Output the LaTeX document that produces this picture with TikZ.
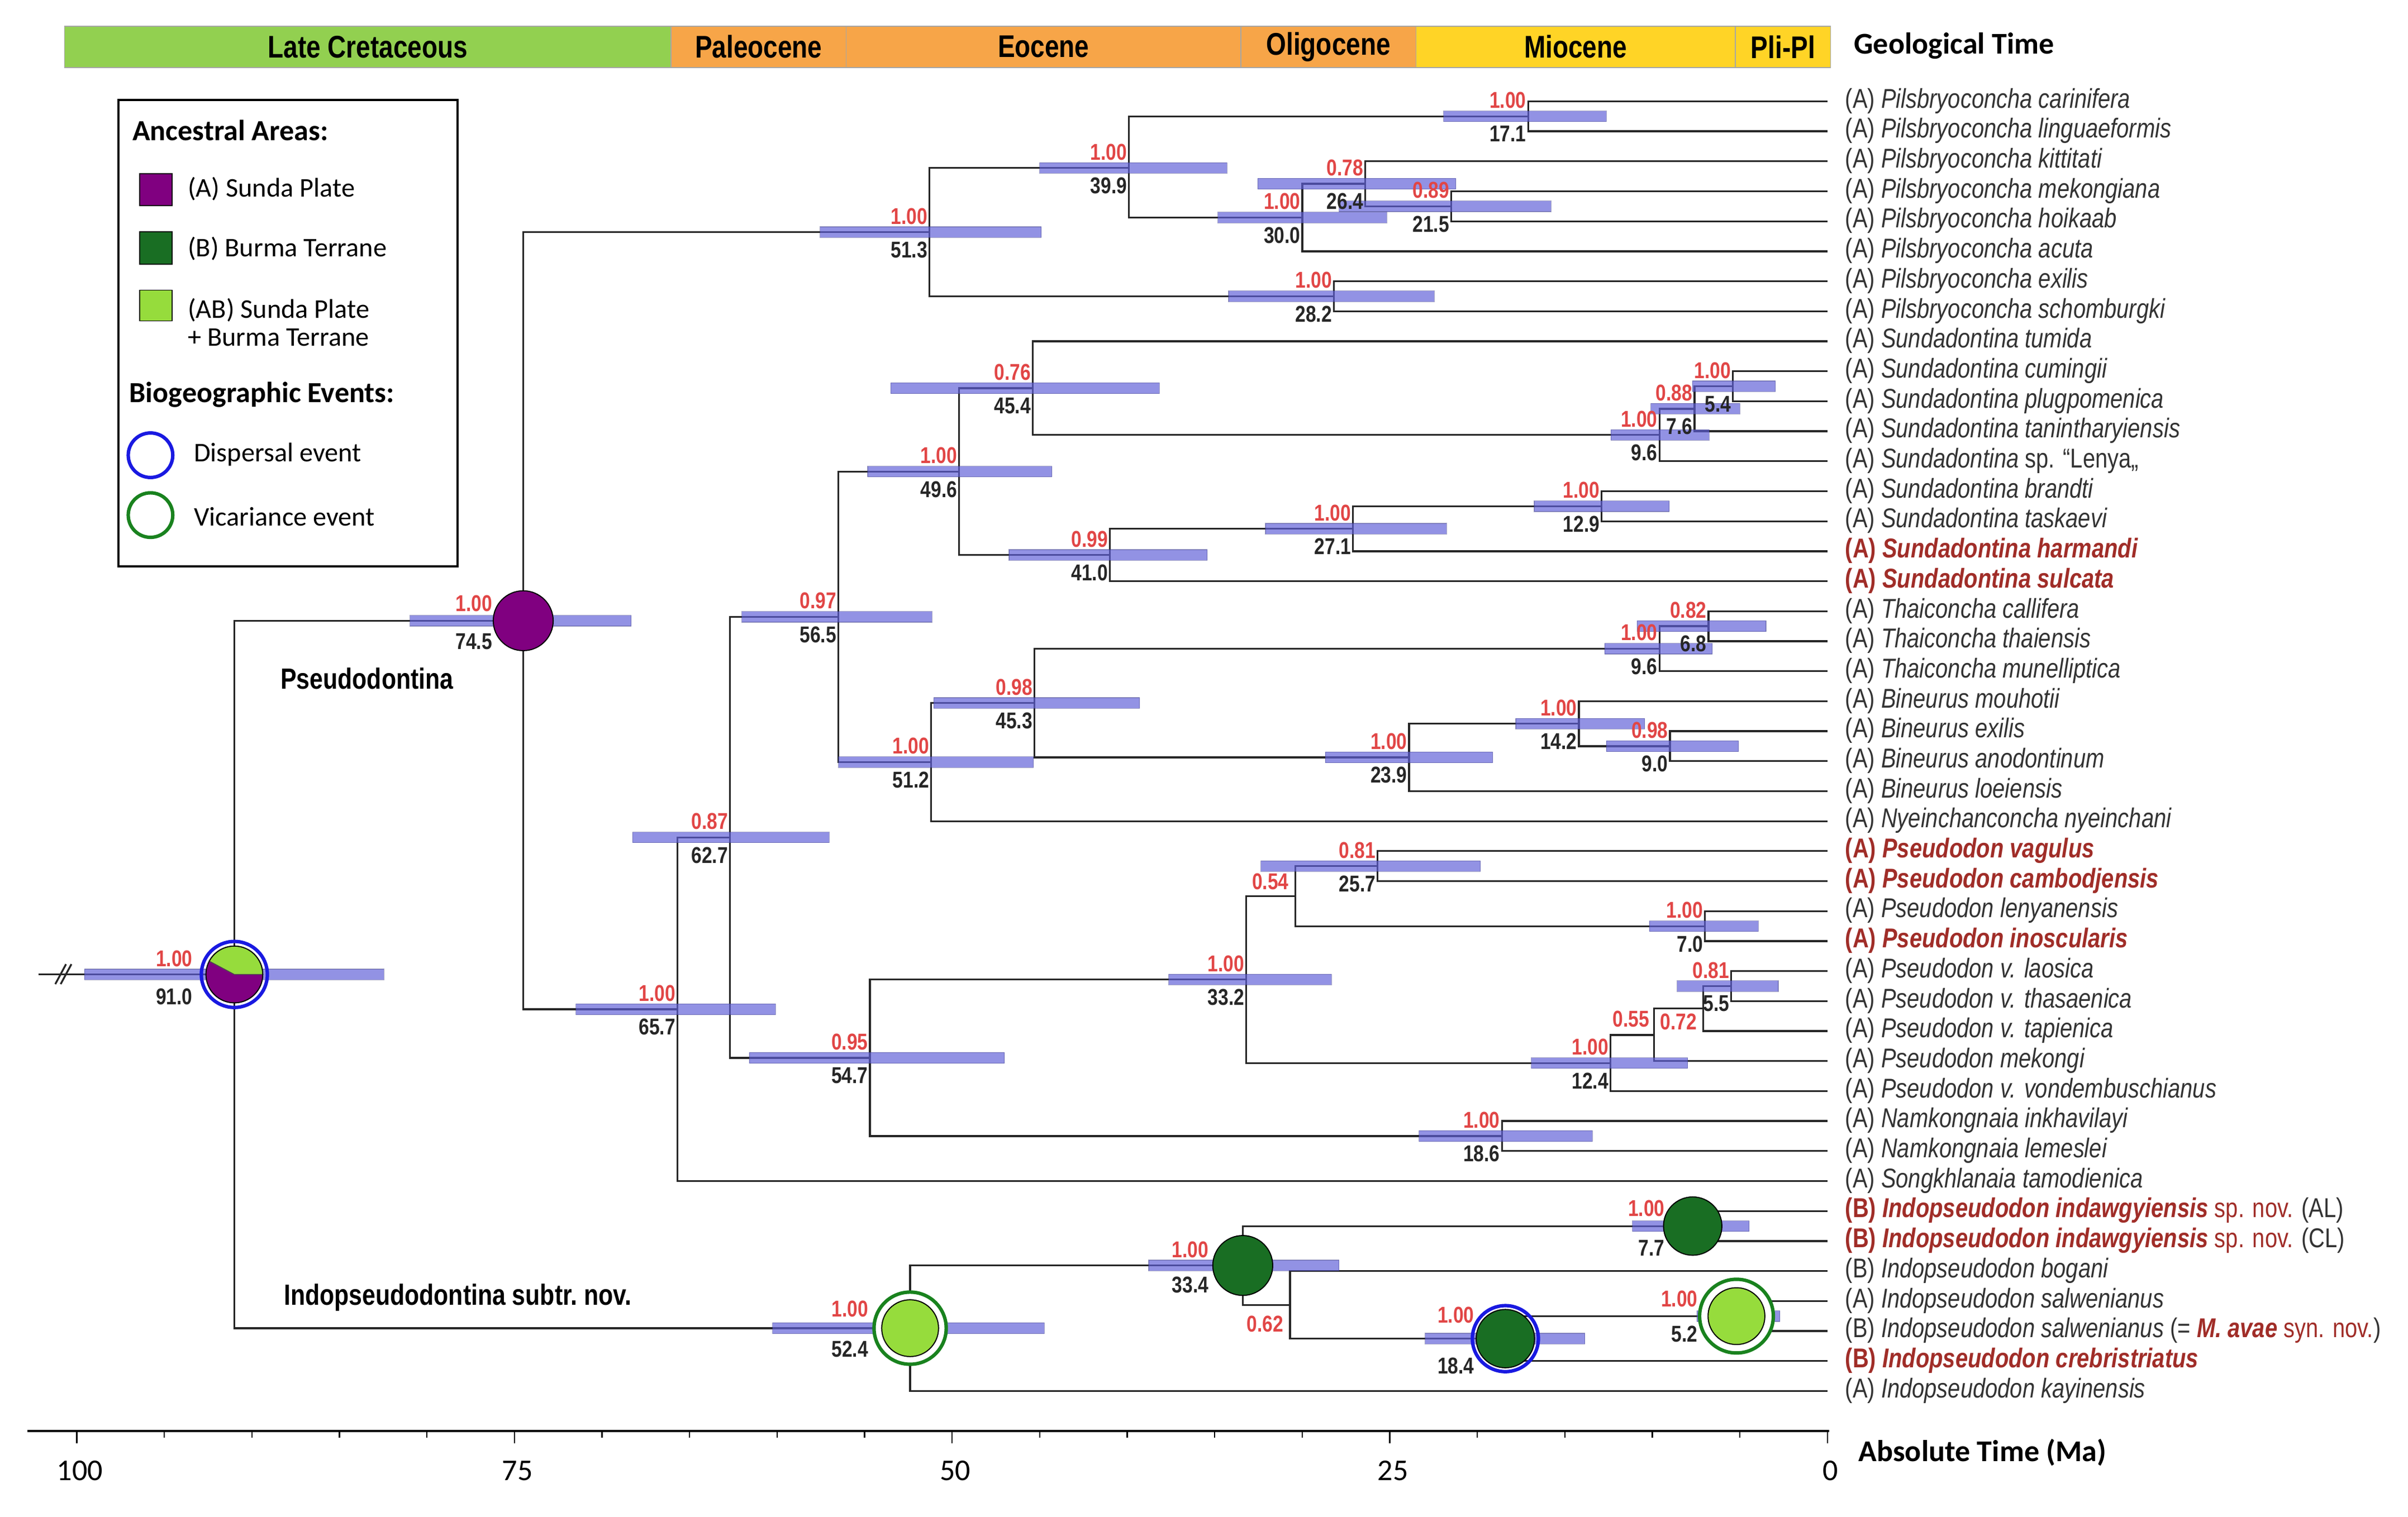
\documentclass[tikz,border=0pt]{standalone}
\usepackage{fontspec}
\setmainfont{Liberation Sans}
\newfontfamily\narrow{Liberation Sans}[FakeStretch=0.82]
\newfontfamily\calib{Carlito}
\usetikzlibrary{positioning}

\definecolor{sunda}{RGB}{128,0,128}
\definecolor{burma}{RGB}{25,110,35}
\definecolor{both}{RGB}{150,220,60}
\definecolor{disp}{RGB}{25,25,225}
\definecolor{vica}{RGB}{25,130,30}
\definecolor{postred}{RGB}{225,70,70}
\definecolor{taxred}{RGB}{160,45,40}
\definecolor{hpdblue}{RGB}{95,95,215}
\definecolor{cretac}{RGB}{146,208,80}
\definecolor{paleog}{RGB}{247,165,72}
\definecolor{neog}{RGB}{255,212,38}

\newcommand{\newtax}[1]{\textcolor{taxred}{\bfseries #1}}

\tikzset{
  branch/.style={line width=0.85pt, draw=black!85},
  hpd/.style={fill=hpdblue, fill opacity=0.68, draw=hpdblue!60!black, draw opacity=0.45, line width=0.3pt},
  taxon/.style={font=\narrow\fontsize{12.6}{14}\selectfont, text=black!80, inner sep=0pt,
    text height=1.6ex, text depth=0.45ex},
  post/.style={font=\narrow\bfseries\fontsize{10.6}{12}\selectfont, text=postred, inner sep=0pt},
  age/.style={font=\narrow\bfseries\fontsize{10.6}{12}\selectfont, text=black!85, inner sep=0pt},
  clade/.style={font=\narrow\bfseries\fontsize{13.5}{15}\selectfont, inner sep=0pt},
  epochtxt/.style={font=\narrow\bfseries\fontsize{14.5}{16}\selectfont, inner sep=0pt},
  axhead/.style={font=\calib\bfseries\fontsize{14}{16}\selectfont, anchor=west, inner sep=0pt},
  axnum/.style={font=\calib\fontsize{14}{16}\selectfont, inner sep=0pt},
  legtxt/.style={font=\calib\fontsize{12.5}{12.9}\selectfont, anchor=west, inner sep=0pt, align=left},
  leghead/.style={font=\calib\bfseries\fontsize{13.5}{15}\selectfont, anchor=west, inner sep=0pt},
  area/.style={draw=black, line width=0.5pt},
  evring/.style={line width=1.6pt},
  areadot/.style={draw=black, line width=0.5pt}
}

\begin{document}
\begin{tikzpicture}[x=0.025cm, y=-0.025cm]
\useasboundingbox (0,0) rectangle (1568,988);

% geological time bar
\foreach \a/\b/\col/\txt in {42/437/cretac/Late Cretaceous, 437/551/paleog/Paleocene,
  551/808/paleog/Eocene, 808/922/paleog/Oligocene, 922/1130/neog/Miocene, 1130/1192/neog/Pli-Pl}
{
  \filldraw[fill=\col, draw=black!35, line width=0.4pt] (\a,17) rectangle (\b,44);
  \node[epochtxt] (ep\a) at ({(\a+\b)/2},30.5) {\txt};
}
\node[axhead] (geo) at (1207,30) {Geological Time};

% legend
\draw[line width=1pt] (77,65) rectangle (298,369);
\node[leghead] (lgA) at (86,85) {Ancestral Areas:};
\filldraw[area, fill=sunda] (91,113) rectangle (112,134);
\node[legtxt] (lgA1) at (122,123) {(A) Sunda Plate};
\filldraw[area, fill=burma] (91,151) rectangle (112,172);
\node[legtxt] (lgA2) at (122,162) {(B) Burma Terrane};
\filldraw[area, fill=both] (91,189) rectangle (112,209);
\node[legtxt] (lgA3) at (122,210) {(AB) Sunda Plate\\+ Burma Terrane};
\node[leghead] (lgB) at (84,257) {Biogeographic Events:};
\draw[disp, evring] (98,296.5) circle (14.5);
\node[legtxt] (lgB1) at (126,296) {Dispersal event};
\draw[vica, evring] (98,335.5) circle (14.5);
\node[legtxt] (lgB2) at (126,336.5) {Vicariance event};

% internal nodes: name/age/y
\foreach \n/\t/\y in {r910/91.0/634.7, a745/74.5/404.3, p513/51.3/151.2, p399/39.9/109.4,
  p171/17.1/75.75, p300/30.0/141.7, p264/26.4/119.7, p215/21.5/134.35, p282/28.2/193.0,
  b657/65.7/657.35, b627/62.7/545.4, b565/56.5/401.8, s496/49.6/307.15, s454/45.4/252.8,
  s96/9.6/283.3, s76/7.6/266.25, s54/5.4/251.6, s410/41.0/361.5, s271/27.1/344.4,
  s129/12.9/329.75, t512/51.2/496.4, t453/45.3/457.9, h96/9.6/422.5, h68/6.8/407.85,
  b239/23.9/493.35, b142/14.2/471.4, b90/9.0/486.05, b547/54.7/689.0, d332/33.2/638.05,
  d054/30.4/583.7, d257/25.7/564.15, d70/7.0/603.25, d124/12.4/692.4, d055/9.9/674.1,
  d072/7.1/656.95, d55/5.5/642.3, k186/18.6/740.0, i524/52.4/865.1, i334/33.4/824.25,
  i77/7.7/798.6, i062/30.7/849.9, i184/18.4/871.9, i52/5.2/857.25}
  \coordinate (\n) at ({1190-11.4*\t},\y);
\coordinate (stem) at (25,634.7);

% taxa
\foreach \i/\txt in {
  1/{(A) \textit{Pilsbryoconcha carinifera}},
  2/{(A) \textit{Pilsbryoconcha linguaeformis}},
  3/{(A) \textit{Pilsbryoconcha kittitati}},
  4/{(A) \textit{Pilsbryoconcha mekongiana}},
  5/{(A) \textit{Pilsbryoconcha hoikaab}},
  6/{(A) \textit{Pilsbryoconcha acuta}},
  7/{(A) \textit{Pilsbryoconcha exilis}},
  8/{(A) \textit{Pilsbryoconcha schomburgki}},
  9/{(A) \textit{Sundadontina tumida}},
  10/{(A) \textit{Sundadontina cumingii}},
  11/{(A) \textit{Sundadontina plugpomenica}},
  12/{(A) \textit{Sundadontina tanintharyiensis}},
  13/{(A) \textit{Sundadontina} sp. “Lenya„},
  14/{(A) \textit{Sundadontina brandti}},
  15/{(A) \textit{Sundadontina taskaevi}},
  16/{\newtax{(A) \textit{Sundadontina harmandi}}},
  17/{\newtax{(A) \textit{Sundadontina sulcata}}},
  18/{(A) \textit{Thaiconcha callifera}},
  19/{(A) \textit{Thaiconcha thaiensis}},
  20/{(A) \textit{Thaiconcha munelliptica}},
  21/{(A) \textit{Bineurus mouhotii}},
  22/{(A) \textit{Bineurus exilis}},
  23/{(A) \textit{Bineurus anodontinum}},
  24/{(A) \textit{Bineurus loeiensis}},
  25/{(A) \textit{Nyeinchanconcha nyeinchani}},
  26/{\newtax{(A) \textit{Pseudodon vagulus}}},
  27/{\newtax{(A) \textit{Pseudodon cambodjensis}}},
  28/{(A) \textit{Pseudodon lenyanensis}},
  29/{\newtax{(A) \textit{Pseudodon inoscularis}}},
  30/{(A) \textit{Pseudodon v. laosica}},
  31/{(A) \textit{Pseudodon v. thasaenica}},
  32/{(A) \textit{Pseudodon v. tapienica}},
  33/{(A) \textit{Pseudodon mekongi}},
  34/{(A) \textit{Pseudodon v. vondembuschianus}},
  35/{(A) \textit{Namkongnaia inkhavilayi}},
  36/{(A) \textit{Namkongnaia lemeslei}},
  37/{(A) \textit{Songkhlanaia tamodienica}},
  38/{\newtax{(B) \textit{Indopseudodon indawgyiensis}} \textcolor{taxred}{sp. nov.} (AL)},
  39/{\newtax{(B) \textit{Indopseudodon indawgyiensis}} \textcolor{taxred}{sp. nov.} (CL)},
  40/{(B) \textit{Indopseudodon bogani}},
  41/{(A) \textit{Indopseudodon salwenianus}},
  42/{(B) \textit{Indopseudodon salwenianus} (= \newtax{\textit{M. avae}} \textcolor{taxred}{syn. nov.})},
  43/{\newtax{(B) \textit{Indopseudodon crebristriatus}}},
  44/{(A) \textit{Indopseudodon kayinensis}}}
{
  \coordinate (e\i) at (1190,{66+(\i-1)*19.535});
  \node[taxon, right=8pt of e\i] (t\i) {\txt};
}

% branches
\draw[branch] (stem) -- (r910);
\draw[branch] (36,641) -- (43,628) (39.5,641) -- (46.5,628);
\foreach \p/\c in {r910/a745, r910/i524, a745/p513, a745/b657, p513/p399, p513/p282,
  p399/p171, p399/p300, p171/e1, p171/e2, p300/p264, p300/e6, p264/e3, p264/p215,
  p215/e4, p215/e5, p282/e7, p282/e8, b657/b627, b657/e37, b627/b565, b627/b547,
  b565/s496, b565/t512, s496/s454, s496/s410, s454/e9, s454/s96, s96/s76, s96/e13,
  s76/s54, s76/e12, s54/e10, s54/e11, s410/s271, s410/e17, s271/s129, s271/e16,
  s129/e14, s129/e15, t512/t453, t512/e25, t453/h96, t453/b239, h96/h68, h96/e20,
  h68/e18, h68/e19, b239/b142, b239/e24, b142/e21, b142/b90, b90/e22, b90/e23,
  b547/d332, b547/k186, d332/d054, d332/d124, d054/d257, d054/d70, d257/e26, d257/e27,
  d70/e28, d70/e29, d124/d055, d124/e34, d055/d072, d055/e33, d072/d55, d072/e32,
  d55/e30, d55/e31, k186/e35, k186/e36, i524/i334, i524/e44, i334/i77, i334/i062,
  i77/e38, i77/e39, i062/e40, i062/i184, i184/i52, i184/e43, i52/e41, i52/e42}
  \draw[branch] (\p) |- (\c);

% 95% HPD bars
\foreach \n/\a/\b in {r910/55/250, a745/267/411, p513/534/678, p399/677/799, p171/940/1046,
  p300/793/903, p264/819/948, p215/872/1010, p282/800/934, s454/580/755, s496/565/685,
  s410/657/786, s271/824/942, s129/999/1087, s54/1102/1156, s76/1075/1133, s96/1049/1113,
  b565/483/607, b627/412/540, b657/375/505, t512/546/673, t453/608/742, b239/863/972,
  b142/987/1071, b90/1046/1132, h96/1045/1115, h68/1066/1150, b547/488/654, d332/761/867,
  d257/821/964, d70/1074/1145, d55/1092/1158, d124/997/1099, k186/924/1037, i524/503/680,
  i334/748/872, i184/928/1032, i77/1063/1139, i52/1105/1159}
  \filldraw[hpd] (\a,0 |- \n) ++(0,-3.5) rectangle ++({\b-\a},7);

% ancestral areas
\fill[sunda] (r910) circle (18.5);
\filldraw[fill=both, draw=black!70, line width=0.4pt] (r910) -- ++(18.5,0)
  arc[start angle=0, end angle=-152, radius=18.5] -- cycle;
\draw[areadot] (r910) circle (18.5);
\draw[disp, evring] (r910) circle (21.5);
\filldraw[areadot, fill=sunda] (a745) circle (19.5);
\fill[white] (i524) circle (23.5);
\filldraw[areadot, fill=both] (i524) circle (18.5);
\draw[vica, evring] (i524) circle (23.5);
\filldraw[areadot, fill=burma] (i334) circle (19.5);
\filldraw[areadot, fill=burma] (i184) circle (19);
\draw[disp, evring] (i184) circle (21.5);
\filldraw[areadot, fill=burma] (i77) circle (19);
\fill[white] (i52) circle (24);
\filldraw[areadot, fill=both] (i52) circle (18.5);
\draw[vica, evring] (i52) circle (24);

% posterior and age labels
\foreach \n/\pp/\aa/\dx/\dp/\da in {p513/1.00/51.3/1/5/6, p399/1.00/39.9/1/5/6,
  p171/1.00/17.1/1/5/6, p300/1.00/30.0/1/5/6, p264/0.78/26.4/1/5/6, p215/0.89/21.5/1/5/6,
  p282/1.00/28.2/1/5/6, s454/0.76/45.4/1/5/6, s496/1.00/49.6/1/5/6, s410/0.99/41.0/1/5/6,
  s271/1.00/27.1/1/5/6, s129/1.00/12.9/1/5/6, s54/1.00/5.4/1/5/6, s76/0.88/7.6/1/5/6,
  s96/1.00/9.6/1/5/6, b565/0.97/56.5/1/5/6, b627/0.87/62.7/1/5/6, b657/1.00/65.7/1/5/6,
  t512/1.00/51.2/1/5/6, t453/0.98/45.3/1/5/6, b239/1.00/23.9/1/5/6, b142/1.00/14.2/1/5/6,
  b90/0.98/9.0/1/5/6, h96/1.00/9.6/1/5/6, h68/0.82/6.8/1/5/6, b547/0.95/54.7/1/5/6,
  d332/1.00/33.2/1/5/6, d257/0.81/25.7/1/5/6, d70/1.00/7.0/1/5/6, d55/0.81/5.5/1/5/6,
  d124/1.00/12.4/1/5/6, k186/1.00/18.6/1/5/6, r910/1.00/91.0/27/5/9, a745/1.00/74.5/20/6/8,
  i524/1.00/52.4/27/7/8, i334/1.00/33.4/22/5/7, i184/1.00/18.4/20/10/12,
  i77/1.00/7.7/18/6/9, i52/1.00/5.2/25/6/6}
{
  \node[post, anchor=south east] (pp\n) at ([shift={(-\dx,-\dp)}]\n) {\pp};
  \node[age, anchor=north east] (aa\n) at ([shift={(-\dx,\da)}]\n) {\aa};
}
\node[post, anchor=south east] (ppd054) at ([shift={(-4,-4)}]d054) {0.54};
\node[post, anchor=south east] (ppd055) at ([shift={(-3,-5)}]d055) {0.55};
\node[post, anchor=north east] (ppd072) at ([shift={(-4,3)}]d072) {0.72};
\node[post, anchor=north east] (ppi062) at ([shift={(-4,7)}]i062) {0.62};

% clade names
\node[clade] (cladeP) at (239,442) {Pseudodontina};
\node[clade] (cladeI) at (298,845) {Indopseudodontina subtr.\ nov.};

% time axis
\draw[line width=1pt] (18,932) -- (1191,932);
\foreach \t in {0,5,...,100}
  \draw[line width=0.6pt] ({1190-11.4*\t},932) -- ++(0,4.5);
\foreach \t in {0,25,...,100}
{
  \draw[line width=0.6pt] ({1190-11.4*\t},932) -- ++(0,8);
  \node[axnum] (ax\t) at ({1192-11.4*\t},958) {\t};
}
\node[axhead] (abs) at (1210,946) {Absolute Time (Ma)};
\end{tikzpicture}
\end{document}
